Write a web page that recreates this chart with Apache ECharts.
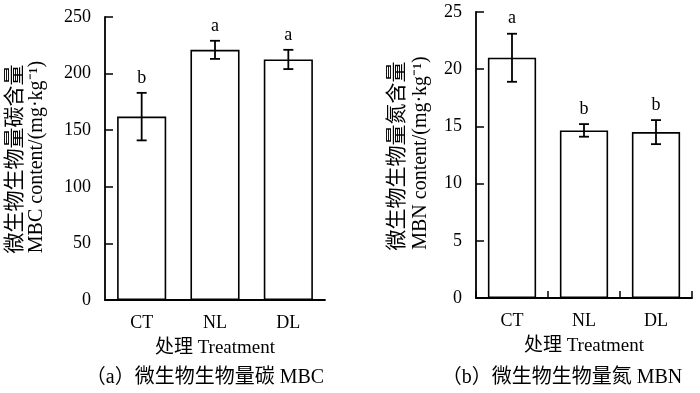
<!DOCTYPE html>
<html>
<head>
<meta charset="utf-8">
<script src="https://cdn.jsdelivr.net/npm/echarts@6/dist/echarts.min.js"></script>
<style>
  html, body { margin: 0; padding: 0; background: #fff; }
  #chart { width: 700px; height: 393px; }
</style>
</head>
<body>
<div id="chart"></div>
<script>
// 数据
const categories = ['CT', 'NL', 'DL'];
const mbcMean = [162, 221, 212.5];
const mbcErr = [21, 8, 8.5];
const mbcLetters = ['b', 'a', 'a'];
const mbnMean = [21, 14.65, 14.5];
const mbnErr = [2.1, 0.55, 1.05];
const mbnLetters = ['a', 'b', 'b'];

const SERIF = '"Liberation Serif", "Times New Roman", "Noto Sans CJK SC", serif';
const CJK = '"Noto Sans CJK SC", "Liberation Serif", sans-serif';

const chart = echarts.init(document.getElementById('chart'), null, { renderer: 'canvas' });

// 误差线 + 显著性字母
function errorRender(letters) {
  return function (params, api) {
    const i = api.value(0);
    const m = api.value(1);
    const e = api.value(2);
    const top = api.coord([i, m + e]);
    const bot = api.coord([i, m - e]);
    const x = top[0];
    const cap = 5;
    const style = { stroke: '#000', lineWidth: 1.8 };
    return {
      type: 'group',
      children: [
        { type: 'line', shape: { x1: x, y1: top[1], x2: x, y2: bot[1] }, style },
        { type: 'line', shape: { x1: x - cap, y1: top[1], x2: x + cap, y2: top[1] }, style },
        { type: 'line', shape: { x1: x - cap, y1: bot[1], x2: x + cap, y2: bot[1] }, style },
        {
          type: 'text',
          style: {
            text: letters[params.dataIndex],
            x: x, y: top[1] - 6,
            align: 'center', verticalAlign: 'bottom',
            font: '18px ' + SERIF, fill: '#000'
          }
        }
      ]
    };
  };
}

function xAxisCfg(gridIndex, showTick) {
  return {
    type: 'category',
    gridIndex,
    data: categories,
    axisLine: { lineStyle: { color: '#000', width: 1.8 } },
    axisTick: { show: showTick, inside: true, length: 7, lineStyle: { color: '#000', width: 1.5 } },
    axisLabel: { color: '#000', fontFamily: SERIF, fontSize: 18, margin: 14 },
    name: '处理 Treatment',
    nameLocation: 'middle',
    nameGap: 39,
    nameTextStyle: { color: '#000', fontFamily: SERIF, fontSize: 19 }
  };
}

function yAxisCfg(gridIndex, max, interval) {
  return {
    type: 'value',
    gridIndex,
    min: 0, max, interval,
    axisLine: { show: true, lineStyle: { color: '#000', width: 1.8 } },
    axisTick: { show: true, inside: true, length: 8, lineStyle: { color: '#000', width: 1.5 } },
    axisLabel: { color: '#000', fontFamily: SERIF, fontSize: 18, margin: 14 },
    splitLine: { show: false }
  };
}

function barSeries(idx, values) {
  return {
    type: 'bar',
    xAxisIndex: idx, yAxisIndex: idx,
    data: values,
    barWidth: '67%',
    itemStyle: { color: '#fff', borderColor: '#000', borderWidth: 1.6 },
    silent: true
  };
}

function errSeries(idx, mean, err, letters) {
  return {
    type: 'custom',
    xAxisIndex: idx, yAxisIndex: idx,
    renderItem: errorRender(letters),
    data: categories.map((c, i) => [i, mean[i], err[i]]),
    encode: { x: 0, y: 1 },
    z: 5,
    silent: true
  };
}

function vText(text, x, y, font) {
  return {
    type: 'text',
    x, y,
    rotation: Math.PI / 2,
    style: { text, font, fill: '#000', align: 'center', verticalAlign: 'middle' }
  };
}

const option = {
  animation: false,
  backgroundColor: '#fff',
  grid: [
    { left: 105, right: 375, top: 17, bottom: 93 },
    { left: 476, right: 8, top: 12, bottom: 95 }
  ],
  xAxis: [xAxisCfg(0, false), xAxisCfg(1, true)],
  yAxis: [yAxisCfg(0, 250, 50), yAxisCfg(1, 25, 5)],
  series: [
    barSeries(0, mbcMean),
    errSeries(0, mbcMean, mbcErr, mbcLetters),
    barSeries(1, mbnMean),
    errSeries(1, mbnMean, mbnErr, mbnLetters)
  ],
  graphic: [
    vText('微生物生物量碳含量', 13, 159, '21px ' + CJK),
    vText('MBC content/(mg·kg⁻¹)', 37, 157, '20px ' + SERIF),
    vText('微生物生物量氮含量', 395, 156, '21px ' + CJK),
    vText('MBN content/(mg·kg⁻¹)', 421, 153, '20px ' + SERIF),
    {
      type: 'text', x: 205, y: 378,
      style: { text: '（a）微生物生物量碳 MBC', font: '20px ' + SERIF, fill: '#000', align: 'center', verticalAlign: 'middle' }
    },
    {
      type: 'text', x: 562, y: 378,
      style: { text: '（b）微生物生物量氮 MBN', font: '20px ' + SERIF, fill: '#000', align: 'center', verticalAlign: 'middle' }
    }
  ]
};

chart.setOption(option);
</script>
</body>
</html>
